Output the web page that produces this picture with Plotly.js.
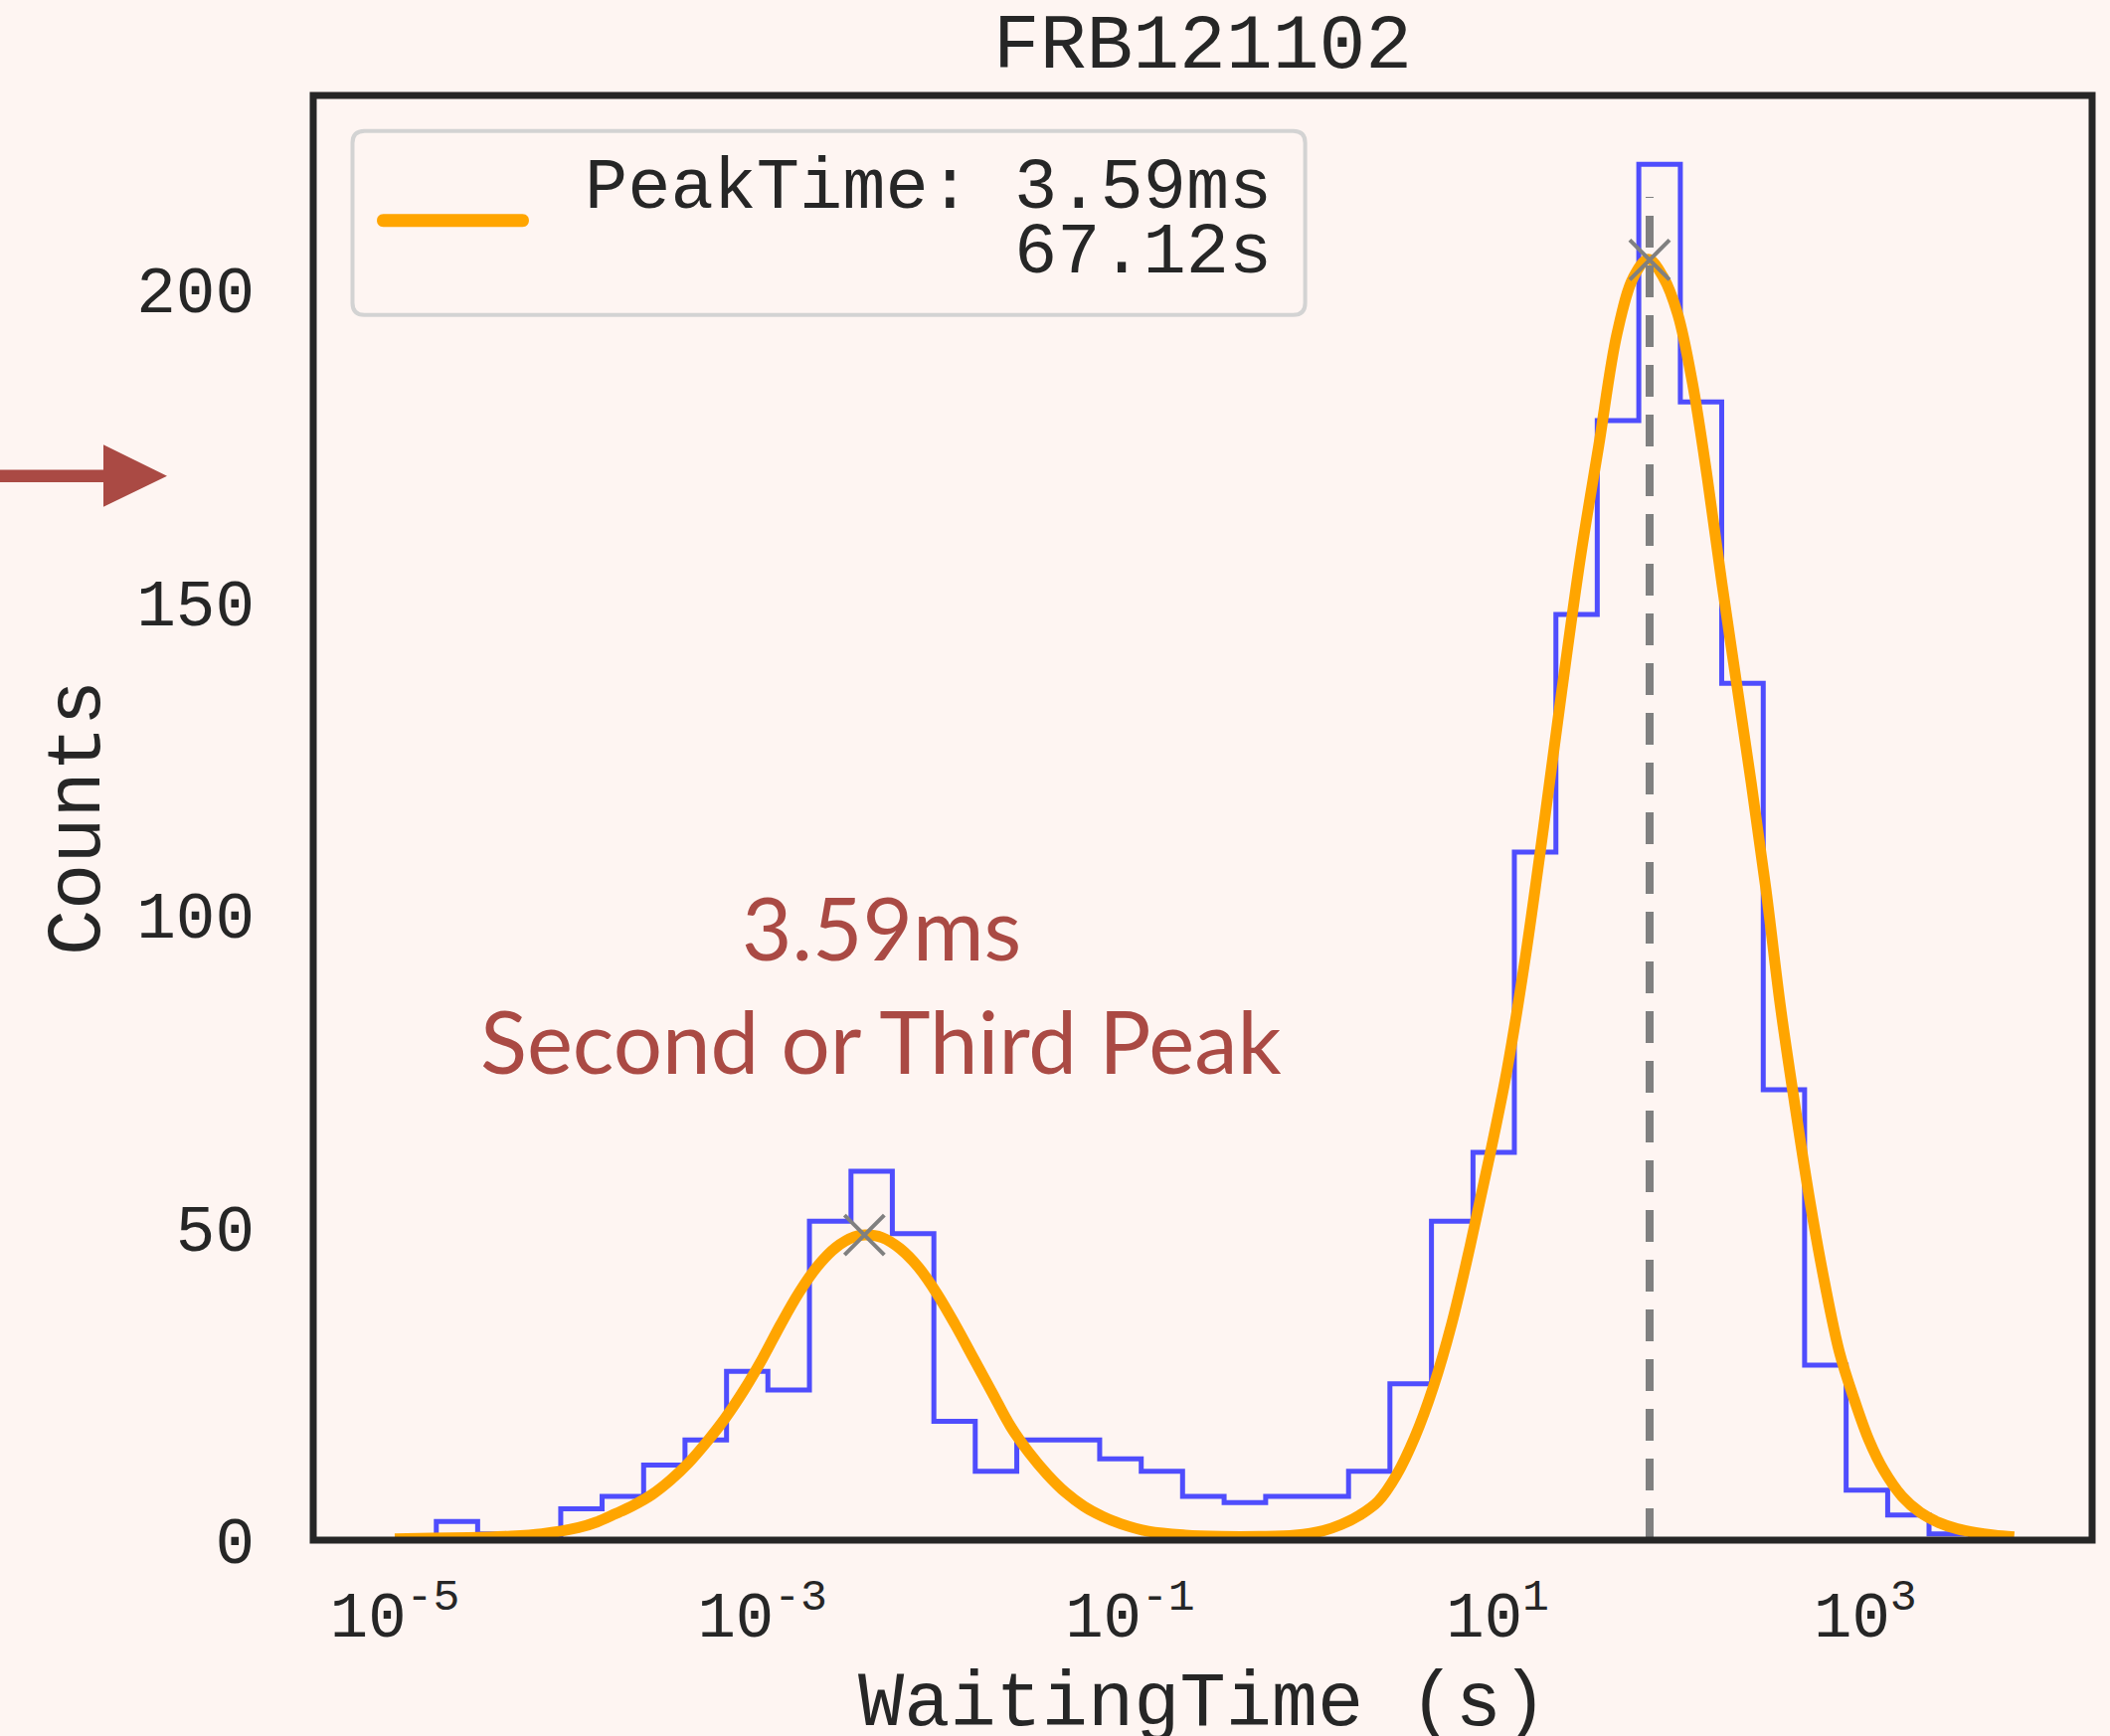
<!DOCTYPE html>
<html>
<head>
<meta charset="utf-8">
<script src="https://cdn.plot.ly/plotly-3.0.1.min.js"></script>
<style>html,body{margin:0;padding:0;background:#fef5f2;}#chart{width:2122px;height:1746px;}</style>
</head>
<body>
<div id="chart"></div>
<script>
// ---- data ----
// histogram bin edges, as log10(waiting time / s)
const binEdgesLog = [-4.774,-4.549,-4.323,-4.097,-3.872,-3.646,-3.421,-3.195,-2.970,-2.744,
  -2.518,-2.293,-2.067,-1.842,-1.616,-1.390,-1.165,-0.939,-0.714,-0.488,
  -0.262,-0.037,0.189,0.414,0.640,0.866,1.091,1.317,1.542,1.768,
  1.994,2.219,2.445,2.670,2.896,3.122,3.347,3.573];
// counts in each bin
const binCounts = [3,1,0,5,7,12,16,27,24,51,
  59,49,19,11,16,16,13,11,7,6,
  7,7,11,25,51,62,110,148,179,220,
  182,137,72,28,8,4,1];
// fitted curve, read point by point (log10 of waiting time, counts)
const curveLogX = [-5.0,-4.8,-4.6,-4.4,-4.2,-4.0,-3.9,-3.8,-3.7,-3.6,
  -3.5,-3.4,-3.3,-3.2,-3.1,-3.0,-2.9,-2.8,-2.7,-2.6,
  -2.5,-2.44,-2.35,-2.25,-2.15,-2.05,-1.95,-1.85,-1.75,-1.65,
  -1.55,-1.45,-1.35,-1.25,-1.15,-1.05,-0.9,-0.7,-0.5,-0.3,
  -0.1,0.05,0.15,0.25,0.35,0.45,0.55,0.65,0.75,0.85,
  0.95,1.05,1.15,1.25,1.35,1.45,1.55,1.65,1.74,1.82,
  1.90,1.98,2.06,2.14,2.22,2.30,2.38,2.46,2.54,2.62,
  2.70,2.78,2.86,2.94,3.02,3.10,3.20,3.30,3.40,3.50,
  3.60,3.70,3.81];
const curveCounts = [0.2,0.3,0.4,0.6,1.0,2.0,2.9,4.2,5.6,7.3,
  9.6,12.4,15.8,19.6,24.0,29.0,34.5,39.6,43.8,46.8,
  48.5,48.8,48.4,46.6,43.6,39.4,34.4,29.0,23.6,18.2,
  14.0,10.5,7.6,5.4,3.8,2.6,1.4,0.8,0.6,0.6,
  0.8,1.5,2.5,4.0,6.2,10.4,16.5,24.5,34.6,47.0,
  60.5,75,93,114,136,157,175,193,202,204.8,
  202,196,185,170,153,137,121,104,85,69,
  54,41,30,22.5,16,11.2,7.0,4.4,2.8,1.8,
  1.2,0.8,0.5];
// peaks
const peakTimes = [3.59e-3, 67.12];
const peakCounts = [48.8, 204.7];
const peakLineTop = 214.8;
// text
const titleText = 'FRB121102';
const xTitle = 'WaitingTime (s)';
const yTitle = 'Counts';
const legendLines = ['PeakTime: 3.59ms', '67.12s'];
const noteLines = ['3.59ms', 'Second or Third Peak'];
const xTickExp = [-5,-3,-1,1,3];
const yTicks = [0,50,100,150,200];

// ---- geometry helpers ----
const W = 2122, H = 1746;
const M = {l:315, r:18, t:96, b:197};
const PW = W - M.l - M.r, PH = H - M.t - M.b;
const px = X => (X - M.l) / PW;
const py = Y => (H - M.b - Y) / PH;

const BG = '#fef5f2';
const INK = '#262626';
const MONO = '"Liberation Mono", "DejaVu Sans Mono", monospace';
const RED = '#aa4a44';

// step outline for histogram
const stepX = [Math.pow(10, binEdgesLog[0])];
const stepY = [0];
for (let i = 0; i < binCounts.length; i++) {
  stepX.push(Math.pow(10, binEdgesLog[i])); stepY.push(binCounts[i]);
}
stepX.push(Math.pow(10, binEdgesLog[binEdgesLog.length - 1])); stepY.push(binCounts[binCounts.length - 1]);
stepX.push(Math.pow(10, binEdgesLog[binEdgesLog.length - 1])); stepY.push(0);

const traces = [
  {type:'scatter', mode:'lines', x:stepX, y:stepY, line:{shape:'hv', color:'rgba(40,40,255,0.82)', width:5}, hoverinfo:'skip', showlegend:false},
  {type:'scatter', mode:'lines', x:curveLogX.map(v => Math.pow(10, v)), y:curveCounts,
   line:{shape:'spline', smoothing:1, color:'#ffa500', width:11}, showlegend:false},
  {type:'scatter', mode:'lines', x:[peakTimes[1], peakTimes[1]], y:[0, peakLineTop],
   line:{color:'#808080', width:8, dash:'32px,18px'}, showlegend:false},
  {type:'scatter', mode:'markers', x:peakTimes, y:peakCounts,
   marker:{symbol:'x-thin-open', size:40, color:'#808080', line:{color:'#808080', width:4}}, showlegend:false}
];

// legend box (rounded) and swatch
function roundRect(x0, y0, x1, y1, r) {
  return 'M' + px(x0 + r) + ',' + py(y0) +
    ' L' + px(x1 - r) + ',' + py(y0) + ' Q' + px(x1) + ',' + py(y0) + ' ' + px(x1) + ',' + py(y0 + r) +
    ' L' + px(x1) + ',' + py(y1 - r) + ' Q' + px(x1) + ',' + py(y1) + ' ' + px(x1 - r) + ',' + py(y1) +
    ' L' + px(x0 + r) + ',' + py(y1) + ' Q' + px(x0) + ',' + py(y1) + ' ' + px(x0) + ',' + py(y1 - r) +
    ' L' + px(x0) + ',' + py(y0 + r) + ' Q' + px(x0) + ',' + py(y0) + ' ' + px(x0 + r) + ',' + py(y0) + ' Z';
}
const sw = {x0:379, x1:532, yc:221.7, h:13};
const swPath = 'M' + px(sw.x0 + sw.h/2) + ',' + py(sw.yc - sw.h/2) +
  ' L' + px(sw.x1 - sw.h/2) + ',' + py(sw.yc - sw.h/2) +
  ' C' + px(sw.x1 + sw.h*0.16) + ',' + py(sw.yc - sw.h/2) + ' ' + px(sw.x1 + sw.h*0.16) + ',' + py(sw.yc + sw.h/2) + ' ' + px(sw.x1 - sw.h/2) + ',' + py(sw.yc + sw.h/2) +
  ' L' + px(sw.x0 + sw.h/2) + ',' + py(sw.yc + sw.h/2) +
  ' C' + px(sw.x0 - sw.h*0.16) + ',' + py(sw.yc + sw.h/2) + ' ' + px(sw.x0 - sw.h*0.16) + ',' + py(sw.yc - sw.h/2) + ' ' + px(sw.x0 + sw.h/2) + ',' + py(sw.yc - sw.h/2) + ' Z';

const arrowPath = 'M' + px(0) + ',' + py(472.5) + ' L' + px(104) + ',' + py(472.5) +
  ' L' + px(104) + ',' + py(447.3) + ' L' + px(168) + ',' + py(478.7) +
  ' L' + px(104) + ',' + py(509.8) + ' L' + px(104) + ',' + py(485) +
  ' L' + px(0) + ',' + py(485) + ' Z';

const shapes = [
  {type:'path', xref:'paper', yref:'paper', path:roundRect(354.5, 131.7, 1312.6, 316.7, 12),
   line:{color:'#d3d3d3', width:4}, fillcolor:BG, layer:'above'},
  {type:'path', xref:'paper', yref:'paper', path:swPath, line:{width:0}, fillcolor:'#ffa500', layer:'above'},
  {type:'rect', xref:'paper', yref:'paper', x0:0, x1:1, y0:0, y1:1, line:{color:INK, width:7}, layer:'above'},
  {type:'path', xref:'paper', yref:'paper', path:arrowPath, line:{width:0}, fillcolor:RED, layer:'above'}
];

const annotations = [
  {xref:'paper', yref:'paper', x:px(1281), y:py(190), xanchor:'right', yanchor:'middle', showarrow:false,
   text:legendLines[0], font:{family:MONO, size:72, color:INK}},
  {xref:'paper', yref:'paper', x:px(1281), y:py(255), xanchor:'right', yanchor:'middle', showarrow:false,
   text:legendLines[1], font:{family:MONO, size:72, color:INK}},
  {xref:'paper', yref:'paper', x:px(886), y:py(932), xanchor:'center', yanchor:'middle', showarrow:false,
   text:noteLines[0], font:{family:'Lato, "Noto Sans", sans-serif', size:87, color:RED}},
  {xref:'paper', yref:'paper', x:px(886), y:py(1046), xanchor:'center', yanchor:'middle', showarrow:false,
   text:noteLines[1], font:{family:'Lato, "Noto Sans", sans-serif', size:87, color:RED}},
  // x-axis title, placed low like the reference (partly cut by the page edge)
  {xref:'paper', yref:'paper', x:0.5, y:py(1714), xanchor:'center', yanchor:'middle', showarrow:false,
   text:xTitle, font:{family:MONO, size:77, color:INK}}
];

const layout = {
  width:W, height:H,
  margin:{l:M.l, r:M.r, t:M.t, b:M.b, pad:0},
  paper_bgcolor:BG, plot_bgcolor:BG,
  showlegend:false,
  title:{text:titleText, font:{family:MONO, size:78, color:INK}, x:0.5, xref:'paper', xanchor:'center',
         y:1 - 41/H, yref:'container', yanchor:'middle'},
  xaxis:{type:'log', range:[-5.4436, 4.2341], showgrid:false, zeroline:false, showline:false, ticks:'',
         tickvals:xTickExp.map(e => Math.pow(10, e)),
         ticktext:xTickExp.map(e => '10<sup>' + (e < 0 ? '-' : '') + Math.abs(e) + '</sup>'),
         tickfont:{family:MONO, size:64, color:INK}, ticklabelstandoff:32},
  yaxis:{range:[0, 231], showgrid:false, zeroline:false, showline:false, ticks:'',
         tickvals:yTicks, tickfont:{family:MONO, size:66, color:INK}, ticklabelstandoff:58,
         title:{text:yTitle, font:{family:MONO, size:77, color:INK}, standoff:11}},
  shapes:shapes, annotations:annotations
};

Plotly.newPlot('chart', traces, layout, {staticPlot:true, displayModeBar:false});
</script>
</body>
</html>
